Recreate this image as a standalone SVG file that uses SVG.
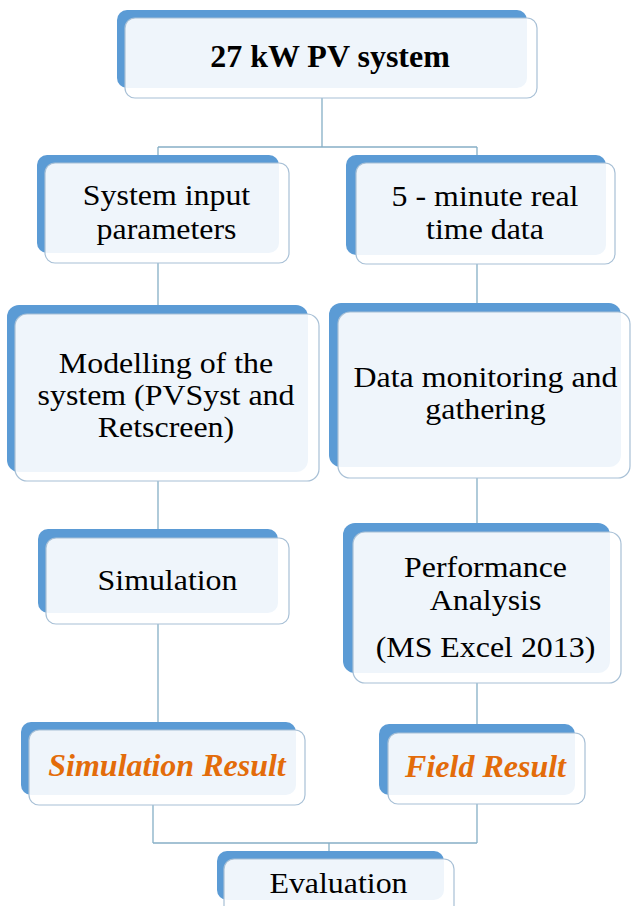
<svg xmlns="http://www.w3.org/2000/svg" width="631" height="906" viewBox="0 0 631 906">
<style>
.back{fill:#5B9BD5}
.front{fill:#ffffff;fill-opacity:0.9;stroke:#A8C0D6;stroke-width:1.2}
.t{font-family:'Liberation Serif',Tinos,'Times New Roman',Times,'DejaVu Serif','Noto Serif',FreeSerif,serif;font-size:29px;fill:#000;text-anchor:middle}
.b{font-weight:bold;font-size:32px}
.r{font-weight:bold;font-style:italic;fill:#E36C0A;font-size:32px}
.c{fill:none;stroke:#86AFC6;stroke-width:1.3}
</style>
<rect width="631" height="906" fill="#fff"/>
<g id="connectors">
<path class="c" d="M322,98V147M158,147H477M158,147V155M477,147V155"/>
<path class="c" d="M158,263V305M477,264V303"/>
<path class="c" d="M158,481V529M477,478V523"/>
<path class="c" d="M158,624V722M477,683V724"/>
<path class="c" d="M153,805V843M477,804V843M153,843H477M329,843V851"/>
</g>
<g id="n1">
<rect class="back" x="117" y="10" width="410" height="78" rx="10"/>
<rect class="front" x="125" y="18" width="412" height="80" rx="10"/>
<text class="t b" x="330" y="67" font-family="Liberation Serif, serif">27 kW PV system</text>
</g>
<g id="n2">
<rect class="back" x="37" y="155" width="242" height="98" rx="10"/>
<rect class="front" x="45" y="163" width="244" height="100" rx="10"/>
<g transform="translate(166.5,0) scale(1.1,1)">
<text class="t" x="0" y="205">System input</text>
<text class="t" x="0" y="239">parameters</text>
</g>
</g>
<g id="n3">
<rect class="back" x="346" y="155" width="260" height="100" rx="10"/>
<rect class="front" x="356" y="163" width="259" height="101" rx="10"/>
<g transform="translate(485,0) scale(1.1,1)">
<text class="t" x="0" y="206">5 - minute real</text>
<text class="t" x="0" y="239">time data</text>
</g>
</g>
<g id="n4">
<rect class="back" x="7" y="305" width="301" height="167" rx="12"/>
<rect class="front" x="15" y="314" width="304" height="167" rx="12"/>
<g transform="translate(166,0) scale(1.1,1)">
<text class="t" x="0" y="373">Modelling of the</text>
<text class="t" x="0" y="405">system (PVSyst and</text>
<text class="t" x="0" y="437">Retscreen)</text>
</g>
</g>
<g id="n5">
<rect class="back" x="329" y="303" width="292" height="164" rx="12"/>
<rect class="front" x="338" y="312" width="292" height="166" rx="12"/>
<g transform="translate(485.5,0) scale(1.1,1)">
<text class="t" x="0" y="387">Data monitoring and</text>
<text class="t" x="0" y="419">gathering</text>
</g>
</g>
<g id="n6">
<rect class="back" x="38" y="529" width="240" height="84" rx="10"/>
<rect class="front" x="46" y="538" width="243" height="86" rx="10"/>
<g transform="translate(167.5,0) scale(1.1,1)">
<text class="t" x="0" y="590">Simulation</text>
</g>
</g>
<g id="n7">
<rect class="back" x="343" y="523" width="267" height="150" rx="12"/>
<rect class="front" x="353" y="532" width="268" height="151" rx="12"/>
<g transform="translate(485.5,0) scale(1.1,1)">
<text class="t" x="0" y="577">Performance</text>
<text class="t" x="0" y="610">Analysis</text>
<text class="t" x="0" y="657">(MS Excel 2013)</text>
</g>
</g>
<g id="n8">
<rect class="back" x="21" y="722" width="275" height="73" rx="10"/>
<rect class="front" x="29" y="730" width="276" height="75" rx="10"/>
<text class="t r" x="167" y="776">Simulation Result</text>
</g>
<g id="n9">
<rect class="back" x="379" y="724" width="196" height="71" rx="10"/>
<rect class="front" x="388" y="733" width="197" height="71" rx="10"/>
<text class="t r" x="485.5" y="777">Field Result</text>
</g>
<g id="n10">
<rect class="back" x="217" y="851" width="227" height="49" rx="10"/>
<rect class="front" x="224" y="859" width="230" height="60" rx="10"/>
<g transform="translate(338.5,0) scale(1.1,1)">
<text class="t" x="0" y="893">Evaluation</text>
</g>
</g>
</svg>
